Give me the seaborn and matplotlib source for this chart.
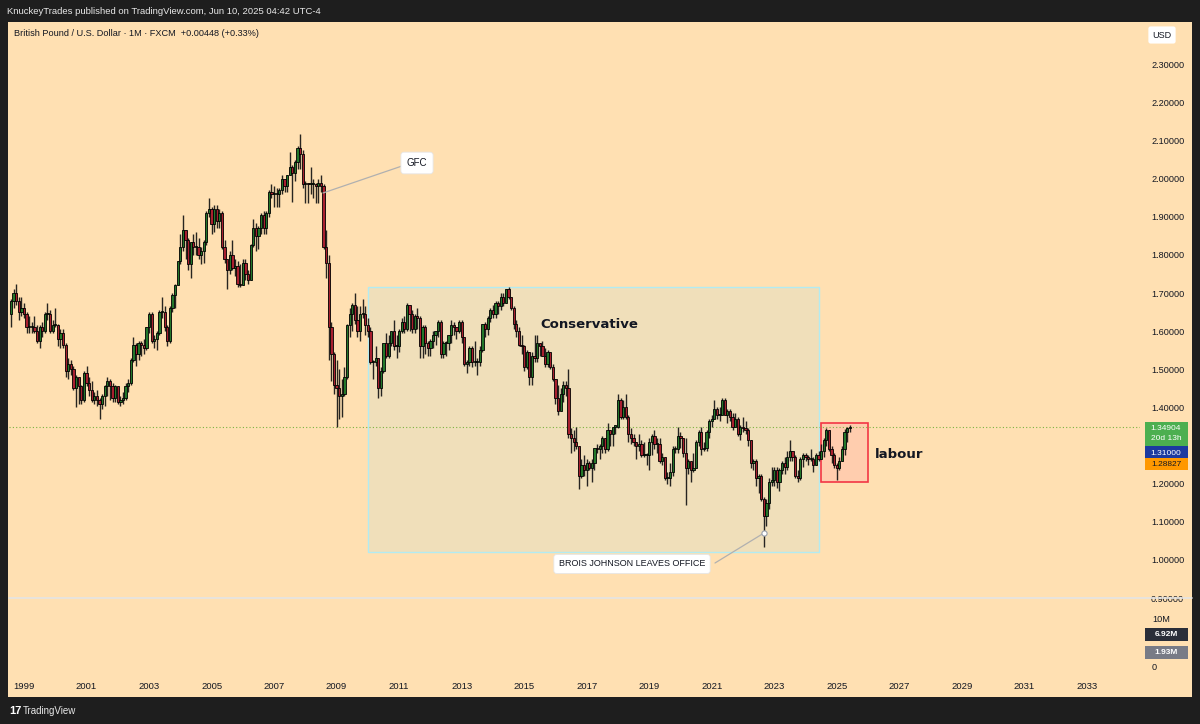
import numpy as np
import pandas as pd
import matplotlib
matplotlib.use("Agg")
import matplotlib.pyplot as plt
from matplotlib.patches import Rectangle
import seaborn as sns

# ---------------- data (GBP/USD monthly, FXCM) ----------------
first_month_offset = -5          # first candle = Aug 1998 (month 0 = Jan 1999)
first_open = 1.645

closes = [
    1.680, 1.700, 1.680, 1.650, 1.660,                                                   # 1998 Aug-Dec
    1.645, 1.610, 1.610, 1.610, 1.600, 1.575, 1.610, 1.600, 1.645, 1.645, 1.600, 1.615,  # 1999
    1.615, 1.580, 1.595, 1.565, 1.495, 1.515, 1.500, 1.450, 1.480, 1.455, 1.420, 1.490,  # 2000
    1.465, 1.445, 1.420, 1.430, 1.420, 1.410, 1.430, 1.455, 1.470, 1.455, 1.425, 1.455,  # 2001
    1.415, 1.420, 1.425, 1.455, 1.465, 1.525, 1.565, 1.540, 1.570, 1.565, 1.555, 1.610,  # 2002
    1.645, 1.575, 1.580, 1.595, 1.650, 1.650, 1.610, 1.575, 1.660, 1.695, 1.720, 1.785,  # 2003
    1.820, 1.865, 1.840, 1.775, 1.835, 1.820, 1.820, 1.800, 1.810, 1.835, 1.910, 1.920,  # 2004
    1.880, 1.920, 1.890, 1.910, 1.820, 1.790, 1.760, 1.800, 1.765, 1.770, 1.725, 1.720,  # 2005
    1.780, 1.750, 1.735, 1.825, 1.870, 1.850, 1.870, 1.905, 1.870, 1.910, 1.965, 1.960,  # 2006
    1.960, 1.960, 1.970, 2.000, 1.980, 2.010, 2.030, 2.015, 2.045, 2.080, 2.065, 1.985,  # 2007
    1.990, 1.985, 1.985, 1.985, 1.980, 1.990, 1.980, 1.820, 1.780, 1.610, 1.540, 1.460,  # 2008
    1.450, 1.430, 1.435, 1.480, 1.615, 1.645, 1.670, 1.630, 1.600, 1.645, 1.645, 1.615,  # 2009
    1.600, 1.520, 1.520, 1.530, 1.450, 1.495, 1.570, 1.535, 1.570, 1.600, 1.560, 1.560,  # 2010
    1.600, 1.625, 1.605, 1.670, 1.645, 1.605, 1.640, 1.635, 1.560, 1.610, 1.570, 1.555,  # 2011
    1.575, 1.590, 1.600, 1.625, 1.540, 1.570, 1.570, 1.590, 1.615, 1.610, 1.600, 1.625,  # 2012
    1.585, 1.515, 1.520, 1.555, 1.520, 1.520, 1.520, 1.550, 1.620, 1.605, 1.635, 1.655,  # 2013
    1.645, 1.675, 1.665, 1.690, 1.675, 1.710, 1.690, 1.660, 1.620, 1.600, 1.565, 1.560,  # 2014
    1.505, 1.545, 1.480, 1.535, 1.530, 1.570, 1.560, 1.535, 1.515, 1.545, 1.505, 1.475,  # 2015
    1.425, 1.390, 1.435, 1.460, 1.450, 1.330, 1.320, 1.310, 1.300, 1.220, 1.250, 1.235,  # 2016
    1.255, 1.240, 1.255, 1.295, 1.290, 1.300, 1.320, 1.290, 1.340, 1.330, 1.350, 1.350,  # 2017
    1.420, 1.375, 1.400, 1.375, 1.330, 1.320, 1.310, 1.300, 1.305, 1.275, 1.275, 1.275,  # 2018
    1.310, 1.325, 1.305, 1.305, 1.260, 1.270, 1.215, 1.215, 1.230, 1.290, 1.290, 1.325,  # 2019
    1.320, 1.280, 1.240, 1.260, 1.235, 1.240, 1.310, 1.335, 1.290, 1.295, 1.335, 1.365,  # 2020
    1.370, 1.395, 1.380, 1.380, 1.420, 1.380, 1.390, 1.375, 1.350, 1.370, 1.330, 1.350,  # 2021
    1.345, 1.340, 1.315, 1.255, 1.260, 1.215, 1.220, 1.160, 1.115, 1.150, 1.205, 1.210,  # 2022
    1.235, 1.205, 1.235, 1.255, 1.245, 1.270, 1.285, 1.270, 1.220, 1.215, 1.265, 1.275,  # 2023
    1.270, 1.265, 1.265, 1.250, 1.275, 1.265, 1.285, 1.315, 1.340, 1.290, 1.275, 1.250,  # 2024
    1.240, 1.260, 1.290, 1.335, 1.345, 1.349,                                            # 2025 Jan-Jun
]
highs = [
    1.685, 1.710, 1.725, 1.690, 1.690,
    1.675, 1.650, 1.640, 1.625, 1.640, 1.615, 1.615, 1.625, 1.650, 1.675, 1.655, 1.630,
    1.660, 1.620, 1.605, 1.605, 1.570, 1.530, 1.525, 1.510, 1.485, 1.480, 1.460, 1.495,
    1.510, 1.480, 1.470, 1.440, 1.445, 1.425, 1.435, 1.460, 1.480, 1.475, 1.465, 1.460,
    1.450, 1.430, 1.440, 1.465, 1.475, 1.530, 1.585, 1.570, 1.575, 1.575, 1.580, 1.612,
    1.650, 1.650, 1.590, 1.600, 1.655, 1.690, 1.665, 1.615, 1.665, 1.700, 1.725, 1.785,
    1.855, 1.905, 1.865, 1.845, 1.835, 1.855, 1.860, 1.845, 1.820, 1.840, 1.915, 1.950,
    1.925, 1.930, 1.930, 1.920, 1.915, 1.840, 1.785, 1.810, 1.840, 1.790, 1.785, 1.775,
    1.790, 1.790, 1.760, 1.830, 1.895, 1.885, 1.875, 1.910, 1.915, 1.915, 1.970, 1.985,
    1.980, 1.975, 1.975, 2.010, 2.000, 2.010, 2.070, 2.035, 2.050, 2.085, 2.116, 2.075,
    1.995, 1.990, 2.030, 2.000, 1.990, 2.000, 2.010, 1.985, 1.865, 1.800, 1.625, 1.545,
    1.525, 1.500, 1.475, 1.505, 1.620, 1.660, 1.675, 1.700, 1.665, 1.665, 1.685, 1.665,
    1.635, 1.610, 1.525, 1.560, 1.530, 1.505, 1.570, 1.595, 1.590, 1.600, 1.630, 1.590,
    1.605, 1.635, 1.640, 1.675, 1.670, 1.655, 1.645, 1.660, 1.640, 1.615, 1.615, 1.575,
    1.580, 1.600, 1.600, 1.630, 1.630, 1.575, 1.575, 1.590, 1.630, 1.625, 1.610, 1.630,
    1.630, 1.585, 1.525, 1.560, 1.560, 1.575, 1.530, 1.560, 1.620, 1.625, 1.640, 1.660,
    1.670, 1.680, 1.680, 1.700, 1.700, 1.710, 1.717, 1.690, 1.665, 1.630, 1.610, 1.590,
    1.565, 1.550, 1.545, 1.545, 1.590, 1.590, 1.570, 1.575, 1.555, 1.550, 1.545, 1.515,
    1.475, 1.460, 1.450, 1.470, 1.470, 1.500, 1.345, 1.340, 1.350, 1.300, 1.265, 1.275,
    1.265, 1.260, 1.265, 1.295, 1.305, 1.305, 1.325, 1.320, 1.360, 1.340, 1.350, 1.355,
    1.435, 1.425, 1.420, 1.435, 1.380, 1.345, 1.330, 1.310, 1.330, 1.315, 1.310, 1.280,
    1.320, 1.330, 1.340, 1.320, 1.320, 1.280, 1.270, 1.230, 1.255, 1.300, 1.300, 1.350,
    1.335, 1.320, 1.320, 1.265, 1.255, 1.280, 1.315, 1.340, 1.350, 1.310, 1.340, 1.370,
    1.380, 1.420, 1.400, 1.400, 1.425, 1.425, 1.395, 1.395, 1.385, 1.385, 1.375, 1.355,
    1.375, 1.365, 1.345, 1.315, 1.265, 1.265, 1.225, 1.225, 1.165, 1.160, 1.215, 1.245,
    1.245, 1.245, 1.240, 1.260, 1.270, 1.285, 1.315, 1.285, 1.275, 1.235, 1.270, 1.280,
    1.280, 1.275, 1.290, 1.270, 1.280, 1.285, 1.305, 1.320, 1.345, 1.340, 1.300, 1.280,
    1.255, 1.270, 1.300, 1.343, 1.350, 1.354,
]
lows = [
    1.610, 1.660, 1.670, 1.630, 1.640,
    1.635, 1.595, 1.595, 1.595, 1.595, 1.570, 1.555, 1.585, 1.595, 1.630, 1.595, 1.595,
    1.610, 1.560, 1.555, 1.555, 1.480, 1.475, 1.485, 1.445, 1.400, 1.410, 1.410, 1.415,
    1.455, 1.430, 1.415, 1.410, 1.405, 1.370, 1.395, 1.405, 1.430, 1.420, 1.415, 1.415,
    1.410, 1.405, 1.410, 1.420, 1.440, 1.460, 1.520, 1.510, 1.525, 1.535, 1.540, 1.550,
    1.595, 1.570, 1.555, 1.550, 1.590, 1.635, 1.600, 1.560, 1.570, 1.650, 1.660, 1.720,
    1.775, 1.810, 1.790, 1.760, 1.740, 1.800, 1.800, 1.790, 1.775, 1.780, 1.825, 1.900,
    1.855, 1.860, 1.870, 1.870, 1.815, 1.780, 1.710, 1.750, 1.760, 1.745, 1.715, 1.715,
    1.720, 1.735, 1.725, 1.735, 1.820, 1.810, 1.815, 1.855, 1.855, 1.855, 1.900, 1.950,
    1.925, 1.925, 1.925, 1.960, 1.965, 1.965, 2.010, 1.940, 1.995, 2.025, 2.025, 1.975,
    1.935, 1.935, 1.960, 1.950, 1.935, 1.935, 1.965, 1.815, 1.740, 1.525, 1.470, 1.435,
    1.350, 1.370, 1.375, 1.430, 1.475, 1.585, 1.600, 1.620, 1.585, 1.575, 1.635, 1.590,
    1.585, 1.515, 1.475, 1.510, 1.425, 1.430, 1.490, 1.530, 1.530, 1.560, 1.550, 1.530,
    1.545, 1.595, 1.595, 1.600, 1.600, 1.595, 1.595, 1.605, 1.530, 1.530, 1.540, 1.535,
    1.535, 1.555, 1.565, 1.585, 1.530, 1.530, 1.535, 1.550, 1.570, 1.590, 1.580, 1.595,
    1.570, 1.510, 1.490, 1.510, 1.505, 1.510, 1.485, 1.510, 1.545, 1.585, 1.590, 1.625,
    1.635, 1.635, 1.645, 1.655, 1.665, 1.675, 1.685, 1.655, 1.605, 1.585, 1.560, 1.540,
    1.495, 1.500, 1.460, 1.460, 1.520, 1.520, 1.535, 1.535, 1.505, 1.505, 1.500, 1.470,
    1.410, 1.380, 1.400, 1.415, 1.430, 1.320, 1.280, 1.285, 1.290, 1.185, 1.215, 1.220,
    1.195, 1.235, 1.205, 1.235, 1.280, 1.265, 1.280, 1.280, 1.285, 1.300, 1.300, 1.330,
    1.345, 1.370, 1.370, 1.370, 1.310, 1.305, 1.300, 1.265, 1.285, 1.270, 1.270, 1.250,
    1.235, 1.275, 1.290, 1.280, 1.255, 1.250, 1.210, 1.200, 1.195, 1.220, 1.280, 1.280,
    1.295, 1.270, 1.145, 1.225, 1.205, 1.230, 1.240, 1.300, 1.275, 1.285, 1.285, 1.320,
    1.350, 1.370, 1.370, 1.365, 1.380, 1.380, 1.360, 1.365, 1.340, 1.350, 1.325, 1.315,
    1.335, 1.330, 1.300, 1.240, 1.235, 1.195, 1.175, 1.155, 1.035, 1.090, 1.135, 1.195,
    1.195, 1.190, 1.180, 1.225, 1.225, 1.235, 1.260, 1.260, 1.215, 1.205, 1.210, 1.245,
    1.260, 1.250, 1.260, 1.230, 1.250, 1.260, 1.265, 1.270, 1.300, 1.285, 1.255, 1.240,
    1.210, 1.235, 1.260, 1.275, 1.310, 1.335,
]

price_ticks = [2.3, 2.2, 2.1, 2.0, 1.9, 1.8, 1.7, 1.6, 1.5, 1.4, 1.3, 1.2, 1.1, 1.0, 0.9]
year_labels = ["1999", "2001", "2003", "2005", "2007", "2009", "2011", "2013", "2015",
               "2017", "2019", "2021", "2023", "2025", "2027", "2029", "2031", "2033"]
last_price = 1.34904
ma_labels = ["1.31000", "1.28827"]
vol_labels = ["10M", "6.92M", "1.93M", "0"]

# ---------------- style ----------------
PEACH = "#FFE0B2"
FRAME = "#1e1e1e"
GREEN = "#23772a"
RED = "#a8202f"
INK = "#131722"

sns.set_theme(style="white")
plt.rcParams['font.family'] = ['Liberation Sans', 'DejaVu Sans']

W, H = 1200, 724
fig = plt.figure(figsize=(12, 7.24), dpi=100, facecolor=FRAME)


def fx(px):
    return px / W


def fy(py):
    return 1 - py / H


def price_at(py):
    return 2.3 - (py - 64.3) / 381.3


def month_at(px):
    return (px - 24) / 2.605


fig.add_artist(Rectangle((fx(8), fy(697)), fx(1192) - fx(8), fy(22) - fy(697),
                         transform=fig.transFigure, facecolor=PEACH, edgecolor='none', zorder=0))

ax = fig.add_axes([fx(9), fy(676), fx(1140) - fx(9), fy(22) - fy(676)])
ax.set_facecolor(PEACH)
for s in ax.spines.values():
    s.set_visible(False)
ax.set_xlim(month_at(9), month_at(1140))
ax.set_ylim(price_at(676), price_at(22))

# candles
n = len(closes)
df = pd.DataFrame({
    "x": np.arange(n) + first_month_offset,
    "o": [first_open] + closes[:-1],
    "c": closes, "h": highs, "l": lows,
})
df["up"] = df["c"] >= df["o"]
ax.vlines(df["x"], df["l"], df["h"], color="#101010", lw=1.0, alpha=0.9, zorder=3)
body_bottom = np.minimum(df["o"], df["c"])
body_h = np.maximum((df["c"] - df["o"]).abs(), 0.003)
ax.bar(df["x"], body_h, bottom=body_bottom, width=0.86,
       color=np.where(df["up"], GREEN, RED), edgecolor="black", linewidth=0.6, zorder=4)

# boxes
ax.add_patch(Rectangle((month_at(368), price_at(552)), month_at(819) - month_at(368),
                       price_at(287) - price_at(552), facecolor="#F0DFBA",
                       edgecolor="#B2EBF2", lw=1.0, zorder=1))
ax.add_patch(Rectangle((month_at(821), price_at(482)), month_at(868) - month_at(821),
                       price_at(423) - price_at(482), facecolor="#FFCDAE",
                       edgecolor="#f23645", lw=1.2, zorder=1))

# last price dotted line
ax.axhline(last_price, color="#7cb342", lw=0.8, ls=(0, (1, 2)), zorder=2)

# pane separator
ax.axhline(0.9, xmin=0, xmax=(1192 - 9) / 1131, color="#e4e4e4", lw=1.2, clip_on=False, zorder=6)

# texts
ax.text(month_at(589), price_at(325), "Conservative", ha="center", va="center",
        fontsize=9.5, fontweight="bold", color=INK, family=['DejaVu Sans'], zorder=7)
ax.text(month_at(899), price_at(455), "labour", ha="center", va="center",
        fontsize=9.5, fontweight="bold", color=INK, family=['DejaVu Sans'], zorder=7)

ax.plot([month_at(323), month_at(402)], [price_at(193), price_at(166)], color="#b0b0b0", lw=0.9, zorder=5)
ax.text(month_at(417), price_at(163), "GFC", ha="center", va="center", fontsize=7, color=INK, zorder=8,
        bbox=dict(boxstyle="round,pad=0.6,rounding_size=0.3", fc="white", ec="#e6e6e6", lw=0.6))

ax.plot([month_at(764), month_at(715)], [price_at(533), price_at(563)], color="#b0b0b0", lw=0.9, zorder=5)
sns.scatterplot(x=[month_at(764)], y=[price_at(533)], s=14, color="white", edgecolor="#9aa0ab",
                linewidth=0.8, ax=ax, zorder=6, legend=False)
ax.text(month_at(632), price_at(564), "BROIS JOHNSON LEAVES OFFICE", ha="center", va="center",
        fontsize=6.5, color=INK, zorder=8,
        bbox=dict(boxstyle="round,pad=0.55,rounding_size=0.3", fc="white", ec="#e6e6e6", lw=0.6))

# axes ticks
ax.set_xticks(np.arange(0, 24 * len(year_labels), 24))
ax.set_xticklabels(year_labels)
ax.tick_params(axis="x", length=0, pad=4, labelsize=6.8, colors=INK)
ax.yaxis.tick_right()
ax.set_yticks(price_ticks)
ax.set_yticklabels([f"{t:.5f}" for t in price_ticks])
ax.tick_params(axis="y", length=0, pad=8, labelsize=6.6, colors=INK)
ax.grid(False)


# price-axis labels (figure pixel layout)
def axis_box(y0, y1, color):
    fig.add_artist(Rectangle((fx(1145), fy(y1)), fx(1188) - fx(1145), fy(y0) - fy(y1),
                             transform=fig.transFigure, facecolor=color, edgecolor='none', zorder=10))


LBL = 6.0
axis_box(422, 446, "#4caf50")
fig.text(fx(1166), fy(428), f"{last_price:.5f}", ha="center", va="center", fontsize=LBL, color="white", zorder=11)
fig.text(fx(1166), fy(439), "20d 13h", ha="center", va="center", fontsize=LBL, color="white", zorder=11)
axis_box(446, 458, "#1c3aa0")
fig.text(fx(1166), fy(453), ma_labels[0], ha="center", va="center", fontsize=LBL, color="white", zorder=11)
axis_box(458, 470, "#ff9800")
fig.text(fx(1166), fy(465), ma_labels[1], ha="center", va="center", fontsize=LBL, color=INK, zorder=11)

fig.text(fx(1152), fy(620), vol_labels[0], ha="left", va="center", fontsize=6.6, color=INK, zorder=11)
axis_box(628, 641, "#2a2e39")
fig.text(fx(1166), fy(634.5), vol_labels[1], ha="center", va="center", fontsize=LBL, color="white",
         fontweight="bold", zorder=11)
axis_box(646, 659, "#787b86")
fig.text(fx(1166), fy(652.5), vol_labels[2], ha="center", va="center", fontsize=LBL, color="white",
         fontweight="bold", zorder=11)
fig.text(fx(1152), fy(667), vol_labels[3], ha="left", va="center", fontsize=6.6, color=INK, zorder=9)

fig.text(fx(1162), fy(35), "USD", ha="center", va="center", fontsize=6.5, color=INK, zorder=11,
         bbox=dict(boxstyle="round,pad=0.45,rounding_size=0.25", fc="white", ec="none"))

# header / footer
fig.text(fx(7), fy(11), "KnuckeyTrades published on TradingView.com, Jun 10, 2025 04:42 UTC-4",
         ha="left", va="center", fontsize=6.8, color="#e8e8e8")
fig.text(fx(14), fy(33), "British Pound / U.S. Dollar · 1M · FXCM  +0.00448 (+0.33%)",
         ha="left", va="center", fontsize=6.6, color=INK)
fig.text(fx(9), fy(711), "17", ha="left", va="center", fontsize=8, fontweight="bold", color="white")
fig.text(fx(23), fy(711), "TradingView", ha="left", va="center", fontsize=7, color="#e8e8e8")

fig.savefig("out.png", dpi=100, facecolor=FRAME)
